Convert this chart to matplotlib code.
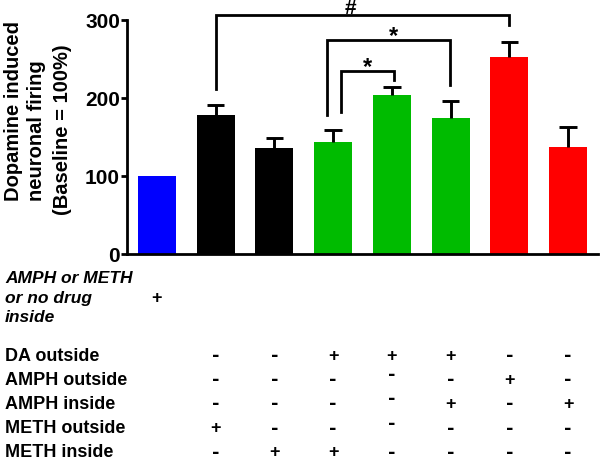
import matplotlib.pyplot as plt
import matplotlib.transforms as mtransforms

plt.rcParams['font.family'] = ['Liberation Sans', 'DejaVu Sans']
plt.rcParams['font.weight'] = 'bold'

# bar data
firing = [100, 178, 136, 143, 204, 174, 252, 137]
err_up = [0, 13, 13, 16, 10, 22, 20, 26]
bar_colors = ['#0000ff', 'black', 'black', '#00bb00', '#00bb00', '#00bb00', '#ff0000', '#ff0000']

# significance brackets: (x left, y left, x right, y right, y top, label, x label)
brackets = [
    (1.0, 211, 6.0, 293, 306, '#', 3.3),
    (2.9, 178, 4.99, 217, 274, '*', 4.02),
    (3.13, 182, 4.04, 223, 235, '*', 3.58),
]

# condition table below the bars (columns = bars 1..7)
row_names = ['DA outside', 'AMPH outside', 'AMPH inside', 'METH outside', 'METH inside']
row_signs = [
    ['-', '-', '+', '+', '+', '-', '-'],
    ['-', '-', '-', '-', '-', '+', '-'],
    ['-', '-', '-', '-', '+', '-', '+'],
    ['+', '-', '-', '-', '-', '-', '-'],
    ['-', '+', '+', '-', '-', '-', '-'],
]

W, H = 600, 461
fig = plt.figure(figsize=(6, 4.61), dpi=100)
ax = fig.add_axes([127 / W, 1 - 254 / H, 471 / W, 234 / H])

x = list(range(len(firing)))
ax.bar(x, firing, width=0.65, color=bar_colors, zorder=2)

# one-sided error bars: stem plus top cap only
tops = [f + e for f, e in zip(firing, err_up)]
ax.vlines(x[1:], firing[1:], tops[1:], color='black', lw=2.1, zorder=3)
ax.hlines(tops[1:], [i - 0.15 for i in x[1:]], [i + 0.15 for i in x[1:]],
          color='black', lw=2.1, zorder=3)

for xl, yl, xr, yr, top, lab, xt in brackets:
    ax.plot([xl, xl, xr, xr], [yl, top, top, yr], color='black', lw=2.0,
            clip_on=False, solid_joinstyle='miter')
    if lab == '*':
        ax.text(xt, top - 4, lab, ha='center', va='baseline', fontsize=17,
                fontweight='bold', clip_on=False)
    else:
        ax.text(xt, top + 1.5, lab, ha='center', va='baseline', fontsize=15,
                fontweight='bold', clip_on=False)

ax.set_xlim(-0.51, 7.51)
ax.set_ylim(0, 300)
ax.set_yticks([0, 100, 200, 300])
ax.set_xticks([])
ax.tick_params(axis='y', labelsize=15, width=2.0, length=4, pad=1)
for s in ['top', 'right']:
    ax.spines[s].set_visible(False)
for s in ['left', 'bottom']:
    ax.spines[s].set_linewidth(2.0)

# y label, three lines
ylab = [('Dopamine induced', 14, 111), ('neuronal firing', 37, 131), ('(Baseline = 100%)', 63, 130)]
for txt, px, py in ylab:
    fig.text(px / W, 1 - py / H, txt, rotation=90, ha='center', va='center', fontsize=14.5)

# table
trans = mtransforms.blended_transform_factory(ax.transData, fig.transFigure)
fig.text(5 / W, 1 - 298 / H, 'AMPH or METH\nor no drug\ninside', ha='left', va='center',
         fontsize=12.5, style='italic', linespacing=1.4)
fig.text(0, 1 - 298 / H, '+', transform=trans, ha='center', va='center', fontsize=13)

for r, (name, signs) in enumerate(zip(row_names, row_signs)):
    yp = 356 + 24.2 * r
    fig.text(5 / W, 1 - yp / H, name, ha='left', va='center', fontsize=13)
    for c, s in enumerate(signs):
        dy = -5 if (c == 3 and 1 <= r <= 3) else 0
        fig.text(c + 1, 1 - (yp + dy) / H, s, transform=trans, ha='center', va='center',
                 fontsize=13, family=['DejaVu Sans'] if s == '-' else None)

fig.savefig('out.png', dpi=100)
